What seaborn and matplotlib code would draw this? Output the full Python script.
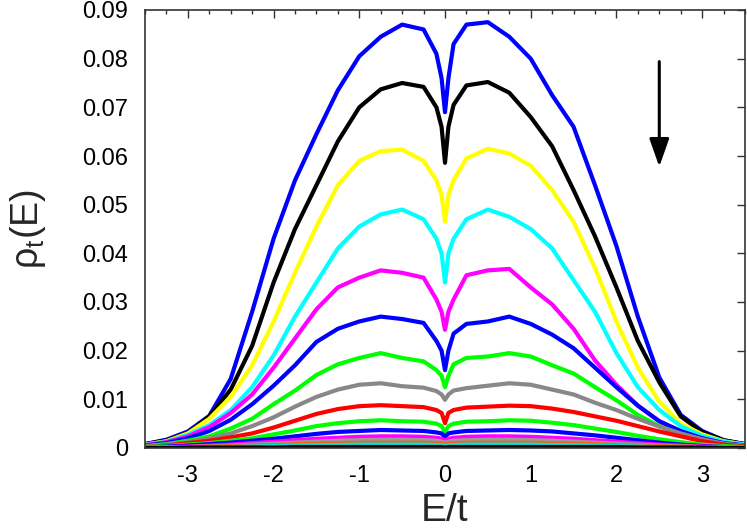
import numpy as np
import pandas as pd
import seaborn as sns
import matplotlib

matplotlib.use("Agg")
import matplotlib.pyplot as plt
from matplotlib.ticker import MultipleLocator, FixedLocator


# Energy grid (E/t) the curves were read on
energy = [-3.5, -3.25, -3.0, -2.75, -2.5, -2.25, -2.0, -1.75, -1.5, -1.25, -1.0, -0.75,
          -0.5, -0.25, -0.1, -0.04, 0.0, 0.04, 0.1, 0.25, 0.5, 0.75, 1.0, 1.25, 1.5,
          1.75, 2.0, 2.25, 2.5, 2.75, 3.0, 3.25, 3.5]

# Density of states per curve, top curve first
blue_1 = [0.0008, 0.0017, 0.0034, 0.0066, 0.0142, 0.028, 0.043, 0.055, 0.0645, 0.0735, 0.0805,
          0.0845, 0.087, 0.086, 0.081, 0.076, 0.069, 0.076, 0.083, 0.087, 0.0875, 0.0845,
          0.080, 0.0725, 0.066, 0.054, 0.0415, 0.027, 0.0145, 0.0068, 0.0035, 0.0016, 0.0008]
black_1 = [0.0008, 0.0016, 0.0031, 0.0065, 0.012, 0.021, 0.034, 0.045, 0.054, 0.063, 0.070,
           0.0737, 0.075, 0.0742, 0.070, 0.066, 0.0586, 0.066, 0.0705, 0.0745, 0.0752, 0.073,
           0.068, 0.062, 0.053, 0.0435, 0.033, 0.022, 0.0135, 0.0065, 0.0033, 0.0016, 0.0008]
yellow_1 = [0.0007, 0.0014, 0.003, 0.006, 0.0105, 0.017, 0.026, 0.036, 0.0455, 0.054, 0.059,
            0.061, 0.0613, 0.059, 0.055, 0.052, 0.0465, 0.052, 0.055, 0.0595, 0.0615, 0.0605,
            0.058, 0.053, 0.0465, 0.037, 0.026, 0.0165, 0.0095, 0.005, 0.0028, 0.0014, 0.0007]
cyan_1 = [0.0007, 0.0013, 0.0027, 0.0047, 0.0078, 0.0125, 0.019, 0.027, 0.034, 0.041, 0.0455,
          0.048, 0.049, 0.047, 0.043, 0.040, 0.034, 0.040, 0.043, 0.047, 0.049, 0.0475,
          0.045, 0.041, 0.0345, 0.028, 0.0195, 0.0125, 0.0078, 0.0045, 0.0025, 0.0013, 0.0007]
magenta_1 = [0.0006, 0.0012, 0.0024, 0.0043, 0.0072, 0.011, 0.0165, 0.0225, 0.0285, 0.033, 0.035,
             0.0365, 0.036, 0.035, 0.0305, 0.028, 0.0243, 0.028, 0.0305, 0.0355, 0.0365, 0.0368,
             0.033, 0.0295, 0.0245, 0.018, 0.013, 0.0087, 0.0055, 0.0033, 0.002, 0.001, 0.0005]
blue_2 = [0.0005, 0.001, 0.002, 0.0035, 0.0058, 0.009, 0.0128, 0.017, 0.0218, 0.0245, 0.026,
          0.027, 0.0265, 0.0257, 0.022, 0.020, 0.016, 0.020, 0.0235, 0.0255, 0.026, 0.027,
          0.0255, 0.0233, 0.0205, 0.0165, 0.0125, 0.0087, 0.0055, 0.0035, 0.002, 0.001, 0.0005]
green_1 = [0.0004, 0.0008, 0.0015, 0.0024, 0.004, 0.006, 0.009, 0.0118, 0.015, 0.0172, 0.0185,
           0.0195, 0.0185, 0.0178, 0.016, 0.0148, 0.0125, 0.0148, 0.0172, 0.0185, 0.0188, 0.0195,
           0.0188, 0.017, 0.0153, 0.0125, 0.0098, 0.0068, 0.0045, 0.0028, 0.0015, 0.0008, 0.0004]
gray_1 = [0.0003, 0.0007, 0.0012, 0.002, 0.003, 0.0045, 0.0063, 0.0085, 0.0105, 0.012, 0.013,
          0.0133, 0.0127, 0.0124, 0.0117, 0.011, 0.0099, 0.011, 0.0118, 0.0123, 0.0128, 0.0133,
          0.013, 0.012, 0.011, 0.0093, 0.0078, 0.006, 0.0044, 0.003, 0.0018, 0.0009, 0.0004]
red_1 = [0.0002, 0.0005, 0.001, 0.0015, 0.0022, 0.003, 0.0042, 0.0056, 0.007, 0.008, 0.0086,
         0.0088, 0.0086, 0.0084, 0.0078, 0.0072, 0.0051, 0.0072, 0.0078, 0.0083, 0.0085, 0.0087,
         0.0086, 0.0081, 0.0074, 0.0065, 0.0056, 0.0045, 0.0034, 0.0024, 0.0014, 0.0007, 0.0003]
green_2 = [0.0002, 0.0004, 0.0007, 0.001, 0.0015, 0.002, 0.0028, 0.0036, 0.0045, 0.0051, 0.0055,
           0.0057, 0.0055, 0.0054, 0.005, 0.0045, 0.0033, 0.0045, 0.005, 0.0054, 0.0055, 0.0057,
           0.0056, 0.0052, 0.0047, 0.004, 0.0033, 0.0025, 0.0018, 0.0012, 0.0007, 0.0004, 0.0002]
blue_3 = [0.0001, 0.0003, 0.0005, 0.0008, 0.0011, 0.0015, 0.0019, 0.0024, 0.0029, 0.0033, 0.0035,
          0.0037, 0.0036, 0.0035, 0.0032, 0.003, 0.0023, 0.003, 0.0032, 0.0035, 0.0036, 0.0037,
          0.0036, 0.0034, 0.003, 0.0026, 0.0021, 0.0016, 0.0011, 0.0007, 0.0004, 0.0002, 0.0001]
magenta_2 = [0.0001, 0.0002, 0.0003, 0.0005, 0.0007, 0.001, 0.0013, 0.0016, 0.0019, 0.0021, 0.0023,
             0.0024, 0.0024, 0.0023, 0.0021, 0.0019, 0.0015, 0.0019, 0.0021, 0.0023, 0.0024, 0.0024,
             0.0023, 0.0021, 0.0019, 0.0016, 0.0013, 0.001, 0.0007, 0.0005, 0.0003, 0.0002, 0.0001]
gray_2 = [0.0001, 0.0001, 0.0002, 0.0003, 0.0005, 0.0007, 0.0009, 0.0011, 0.0013, 0.0015, 0.0016,
          0.0017, 0.0017, 0.0016, 0.0015, 0.0013, 0.0011, 0.0013, 0.0015, 0.0016, 0.0017, 0.0017,
          0.0016, 0.0015, 0.0013, 0.0011, 0.0009, 0.0007, 0.0005, 0.0003, 0.0002, 0.0001, 0.0001]
orange_1 = [0.0001, 0.0001, 0.0002, 0.0003, 0.0004, 0.0005, 0.0006, 0.0008, 0.0009, 0.001, 0.0011,
            0.0011, 0.0011, 0.0011, 0.001, 0.0009, 0.0008, 0.0009, 0.001, 0.0011, 0.0011, 0.0011,
            0.0011, 0.001, 0.0009, 0.0008, 0.0006, 0.0005, 0.0004, 0.0003, 0.0002, 0.0001, 0.0001]
cyan_2 = [0.0, 0.0001, 0.0001, 0.0002, 0.0002, 0.0003, 0.0004, 0.0005, 0.0006, 0.0006, 0.0007,
          0.0007, 0.0007, 0.0007, 0.0006, 0.0006, 0.0005, 0.0006, 0.0006, 0.0007, 0.0007, 0.0007,
          0.0007, 0.0006, 0.0006, 0.0005, 0.0004, 0.0003, 0.0002, 0.0002, 0.0001, 0.0001, 0.0]
black_2 = [0.0, 0.0, 0.0001, 0.0001, 0.0001, 0.0001, 0.0001, 0.0002, 0.0002, 0.0002, 0.0002,
           0.0002, 0.0002, 0.0002, 0.0002, 0.0002, 0.0001, 0.0002, 0.0002, 0.0002, 0.0002, 0.0002,
           0.0002, 0.0002, 0.0002, 0.0002, 0.0002, 0.0001, 0.0001, 0.0001, 0.0001, 0.0, 0.0]

curves = {
    "blue_1": (blue_1, "#0000ff"),
    "black_1": (black_1, "#000000"),
    "yellow_1": (yellow_1, "#ffff00"),
    "cyan_1": (cyan_1, "#00ffff"),
    "magenta_1": (magenta_1, "#ff00ff"),
    "blue_2": (blue_2, "#0000ff"),
    "green_1": (green_1, "#00ff00"),
    "gray_1": (gray_1, "#888888"),
    "red_1": (red_1, "#ff0000"),
    "green_2": (green_2, "#00ff00"),
    "blue_3": (blue_3, "#0000ff"),
    "magenta_2": (magenta_2, "#ff00ff"),
    "gray_2": (gray_2, "#999999"),
    "orange_1": (orange_1, "#f0641e"),
    "cyan_2": (cyan_2, "#00e0e0"),
    "black_2": (black_2, "#000000"),
}

x_ticks = [-3, -2, -1, 0, 1, 2, 3]
y_ticks = [0, 0.01, 0.02, 0.03, 0.04, 0.05, 0.06, 0.07, 0.08, 0.09]
y_tick_labels = ["0", "0.01", "0.02", "0.03", "0.04", "0.05", "0.06", "0.07", "0.08", "0.09"]

# Long-form frame for seaborn
df = pd.concat(
    [pd.DataFrame({"E": energy, "rho": vals, "curve": name}) for name, (vals, _) in curves.items()],
    ignore_index=True,
)
palette = {name: col for name, (_, col) in curves.items()}

sns.set_style("white")
plt.rcParams["font.family"] = ["Liberation Sans", "DejaVu Sans"]
plt.rcParams["mathtext.fontset"] = "custom"
plt.rcParams["mathtext.rm"] = "Liberation Sans"
plt.rcParams["mathtext.it"] = "Liberation Sans:italic"
plt.rcParams["axes.unicode_minus"] = False

fig = plt.figure(figsize=(7.47, 5.31), dpi=100)
ax = fig.add_axes([145 / 747, 83 / 531, 600 / 747, 438 / 531])

sns.lineplot(
    data=df,
    x="E",
    y="rho",
    hue="curve",
    hue_order=list(curves.keys()),
    palette=palette,
    estimator=None,
    sort=False,
    linewidth=3.0,
    legend=False,
    ax=ax,
)

# Arrow: curves decrease downwards
ax.annotate(
    "",
    xy=(2.5, 0.0578),
    xytext=(2.5, 0.0794),
    arrowprops=dict(arrowstyle="-|>,head_length=0.85,head_width=0.3", mutation_scale=20,
                    lw=2.2, color="black", shrinkA=0, shrinkB=0),
)

ax.set_xlim(-3.5, 3.5)
ax.set_ylim(0, 0.09)
ax.xaxis.set_major_locator(FixedLocator(x_ticks))
ax.xaxis.set_minor_locator(MultipleLocator(0.25))
ax.set_xticklabels([str(t) for t in x_ticks])
ax.yaxis.set_major_locator(FixedLocator(y_ticks))
ax.set_yticklabels(y_tick_labels)
ax.tick_params(which="both", direction="in", top=True, right=True, colors="#333333",
               labelcolor="black", labelsize=17, pad=12)
ax.tick_params(which="major", length=6, width=1)
ax.tick_params(which="minor", length=3, width=1)
for sp in ax.spines.values():
    sp.set_color("#333333")
    sp.set_linewidth(1.2)

ax.set_xlabel("E/t", fontsize=28, va="baseline")
ax.xaxis.set_label_coords(0.5, -0.166)
ax.set_ylabel(r"$\mathregular{\rho_t(E)}$", fontsize=27, va="center")
ax.yaxis.set_label_coords(-0.195, 0.5)

fig.savefig("out.png", dpi=100)
